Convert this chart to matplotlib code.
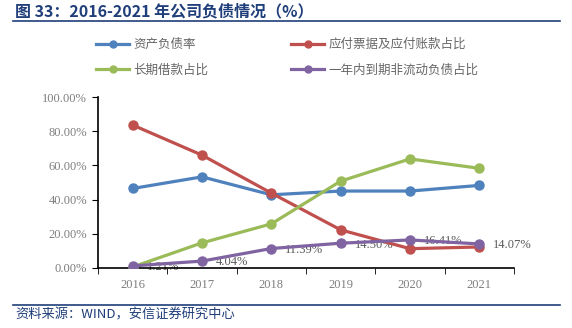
import matplotlib.pyplot as plt
import numpy as np
from matplotlib.ticker import FuncFormatter
from matplotlib.lines import Line2D

plt.rcParams['font.family'] = ['Noto Sans CJK SC', 'DejaVu Sans']

years = ['2016', '2017', '2018', '2019', '2020', '2021']
debt_ratio = [46.5, 53.3, 42.8, 45.0, 45.0, 48.3]
payables = [83.6, 66.0, 43.8, 22.3, 11.3, 12.3]
long_loans = [0.6, 14.7, 25.8, 50.8, 63.8, 58.3]
noncurrent_due = [1.21, 4.04, 11.39, 14.50, 16.41, 14.07]

names = ['资产负债率', '应付票据及应付账款占比', '长期借款占比', '一年内到期非流动负债占比']
colors = ['#4F81BD', '#C0504D', '#9BBB59', '#8064A2']

fig = plt.figure(figsize=(5.72, 3.28), dpi=100)
ax = fig.add_axes([98 / 572, 1 - 268 / 328, 416 / 572, 171 / 328])

x = np.arange(len(years))
series = [debt_ratio, payables, long_loans, noncurrent_due]
for vals, c in zip(series, colors):
    ax.plot(x, vals, color=c, lw=2.3, marker='o', ms=6.5, zorder=3,
            solid_capstyle='round')

serif = 'Liberation Serif'
for xi, v in zip(x, noncurrent_due):
    ax.annotate(f'{v:.2f}%', (xi, v), xytext=(10, -1), textcoords='offset points',
                va='center', ha='left', fontsize=9, color='#595959',
                family=serif, zorder=2)

ax.set_xlim(-0.5, 5.5)
ax.set_ylim(0, 100)
ax.set_yticks(np.arange(0, 101, 20))
ax.yaxis.set_major_formatter(FuncFormatter(lambda v, p: f'{v:.2f}%'))
ax.set_xticks(x)
ax.set_xticklabels(years)
ax.set_xticks(np.arange(-0.5, 6, 1), minor=True)
ax.tick_params(axis='x', which='major', length=0, pad=8)
ax.tick_params(axis='x', which='minor', length=4, direction='out', color='black')
ax.tick_params(axis='y', length=4, direction='out', color='black', pad=4)
for lab in ax.get_xticklabels() + ax.get_yticklabels():
    lab.set_family(serif)
    lab.set_fontsize(9)
    lab.set_color('#7F7F7F')
for s in ['top', 'right']:
    ax.spines[s].set_visible(False)
for s in ['left', 'bottom']:
    ax.spines[s].set_color('black')
    ax.spines[s].set_linewidth(1.2)

handles = [Line2D([], [], color=c, lw=2.3, marker='o', ms=5) for c in colors]
order = [0, 2, 1, 3]
leg = fig.legend([handles[i] for i in order], [names[i] for i in order],
                 ncol=2, loc='upper left', bbox_to_anchor=(85 / 572, 1 - 27 / 328),
                 frameon=False, fontsize=9, handlelength=2.6, handletextpad=0.4,
                 columnspacing=6.6, labelspacing=1.0)
for t in leg.get_texts():
    t.set_color('#666666')

fig.text(15 / 572, 1 - 11 / 328, '图 33：2016-2021 年公司负债情况（%）', fontsize=11.5,
         fontweight='bold', color='#1F3E7A', va='center', ha='left')
fig.add_artist(Line2D([13 / 572, 560 / 572], [1 - 21 / 328, 1 - 21 / 328],
                      color='#1F3E7A', lw=1.2))
fig.add_artist(Line2D([13 / 572, 560 / 572], [1 - 305 / 328, 1 - 305 / 328],
                      color='#1F3E7A', lw=1.2))
fig.text(15 / 572, 1 - 315 / 328, '资料来源：WIND，安信证券研究中心', fontsize=9.5,
         color='#1F3E7A', va='center', ha='left')

fig.savefig('out.png', dpi=100)
